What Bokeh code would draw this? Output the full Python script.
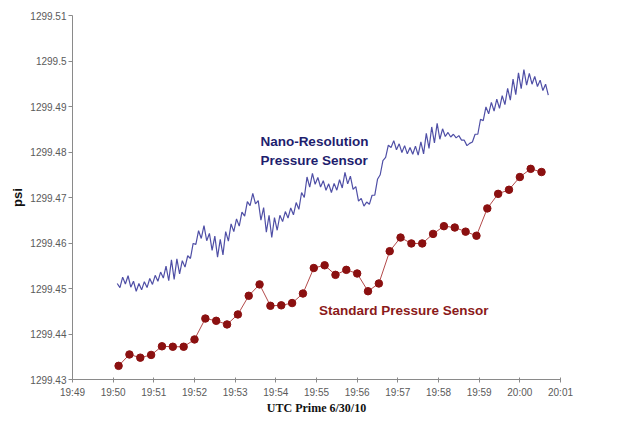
import numpy as np
from bokeh.plotting import figure
from bokeh.models import FixedTicker, Range1d, ColumnDataSource, Label
from bokeh.embed import file_html
from bokeh.resources import INLINE

# ---------------- data ----------------
x_tick_values = [49, 50, 51, 52, 53, 54, 55, 56, 57, 58, 59, 60, 61]   # minutes after 19:00
x_tick_labels = ["19:49", "19:50", "19:51", "19:52", "19:53", "19:54", "19:55",
                 "19:56", "19:57", "19:58", "19:59", "20:00", "20:01"]
y_tick_values = [1299.43, 1299.44, 1299.45, 1299.46, 1299.47, 1299.48, 1299.49, 1299.50, 1299.51]
y_tick_labels = ["1299.43", "1299.44", "1299.45", "1299.46", "1299.47", "1299.48",
                 "1299.49", "1299.5", "1299.51"]
x_axis_title = "UTC Prime 6/30/10"
y_axis_title = "psi"

# Nano-Resolution Pressure Sensor: sampled every 4 s starting 19:50:06
nano_start_min = 50 + 6 / 60
nano_step_min = 4 / 60
nano_psi = [
    1299.4511, 1299.4502, 1299.4525, 1299.4510, 1299.4528, 1299.4503, 1299.4516, 1299.4494, 1299.4511, 1299.4497,
    1299.4515, 1299.4502, 1299.4522, 1299.4509, 1299.4529,
    1299.4516, 1299.4536, 1299.4523, 1299.4549, 1299.4517, 1299.4563, 1299.4520, 1299.4565, 1299.4532, 1299.4561,
    1299.4547, 1299.4572, 1299.4566, 1299.4599, 1299.4597,
    1299.4627, 1299.4610, 1299.4638, 1299.4605, 1299.4621, 1299.4584, 1299.4615, 1299.4569, 1299.4608, 1299.4574,
    1299.4625, 1299.4604, 1299.4642, 1299.4625, 1299.4653,
    1299.4637, 1299.4668, 1299.4659, 1299.4691, 1299.4682, 1299.4709, 1299.4686, 1299.4693, 1299.4650, 1299.4678,
    1299.4624, 1299.4661, 1299.4612, 1299.4656, 1299.4628,
    1299.4661, 1299.4647, 1299.4669, 1299.4655, 1299.4677, 1299.4662, 1299.4689, 1299.4674, 1299.4711, 1299.4700,
    1299.4745, 1299.4723, 1299.4753, 1299.4729, 1299.4744,
    1299.4723, 1299.4737, 1299.4716, 1299.4730, 1299.4711, 1299.4731, 1299.4716, 1299.4739, 1299.4721, 1299.4755,
    1299.4730, 1299.4747, 1299.4718, 1299.4724, 1299.4692,
    1299.4698, 1299.4681, 1299.4690, 1299.4685, 1299.4705, 1299.4705, 1299.4740, 1299.4750, 1299.4781, 1299.4788,
    1299.4815, 1299.4810, 1299.4825, 1299.4805, 1299.4818,
    1299.4799, 1299.4814, 1299.4796, 1299.4810, 1299.4795, 1299.4813, 1299.4793, 1299.4822, 1299.4796, 1299.4841,
    1299.4808, 1299.4855, 1299.4820, 1299.4863, 1299.4828,
    1299.4851, 1299.4834, 1299.4843, 1299.4833, 1299.4839, 1299.4831, 1299.4836, 1299.4826, 1299.4826, 1299.4814,
    1299.4819, 1299.4822, 1299.4839, 1299.4839, 1299.4872,
    1299.4869, 1299.4899, 1299.4884, 1299.4909, 1299.4890, 1299.4916, 1299.4896, 1299.4924, 1299.4904, 1299.4940,
    1299.4914, 1299.4960, 1299.4926, 1299.4974, 1299.4939,
    1299.4981, 1299.4947, 1299.4973, 1299.4949, 1299.4966, 1299.4944, 1299.4958, 1299.4935, 1299.4949, 1299.4925,
]

# Standard Pressure Sensor: sampled every 16 s starting 19:50:08
std_start_min = 50 + 8 / 60
std_step_min = 16 / 60
std_psi = [
    1299.4330, 1299.4355, 1299.4348, 1299.4354, 1299.4373, 1299.4372, 1299.4372, 1299.4388,
    1299.4434, 1299.4429, 1299.4421, 1299.4443, 1299.4484, 1299.4509, 1299.4462, 1299.4463,
    1299.4468, 1299.4489, 1299.4545, 1299.4551, 1299.4530, 1299.4541, 1299.4533, 1299.4494,
    1299.4511, 1299.4582, 1299.4612, 1299.4599, 1299.4599, 1299.4620, 1299.4637, 1299.4634,
    1299.4625, 1299.4616, 1299.4676, 1299.4708, 1299.4717, 1299.4745, 1299.4763, 1299.4756,
]

nano_t = nano_start_min + nano_step_min * np.arange(len(nano_psi))
std_t = std_start_min + std_step_min * np.arange(len(std_psi))

nano_src = ColumnDataSource(dict(t=nano_t, psi=nano_psi))
std_src = ColumnDataSource(dict(t=std_t, psi=std_psi))

# ---------------- figure ----------------
p = figure(width=603, height=417, output_backend="svg", toolbar_location=None,
           x_range=Range1d(x_tick_values[0], x_tick_values[-1]),
           y_range=Range1d(y_tick_values[0], y_tick_values[-1]),
           min_border_left=72, min_border_right=43, min_border_top=15, min_border_bottom=34)
p.outline_line_color = None
p.xgrid.visible = False
p.ygrid.visible = False
p.background_fill_color = "white"
p.border_fill_color = "white"

axis_color = "#8a8a8a"
label_font = "Liberation Sans Narrow, Liberation Sans, sans-serif"

p.xaxis.ticker = FixedTicker(ticks=x_tick_values)
p.xaxis.major_label_overrides = {v: s for v, s in zip(x_tick_values, x_tick_labels)}
p.yaxis.ticker = FixedTicker(ticks=y_tick_values)
p.yaxis.major_label_overrides = {v: s for v, s in zip(y_tick_values, y_tick_labels)}

for ax in (p.xaxis, p.yaxis):
    ax.axis_line_color = axis_color
    ax.major_tick_line_color = axis_color
    ax.minor_tick_line_color = None
    ax.major_label_text_font = label_font
    ax.major_label_text_font_size = "10px"
    ax.major_label_text_color = "#5a5a5a"

p.xaxis.major_tick_in = 2
p.xaxis.major_tick_out = 3
p.xaxis.major_label_standoff = 4
p.yaxis.major_tick_in = 0
p.yaxis.major_tick_out = 4
p.yaxis.major_label_standoff = 2

p.xaxis.axis_label = x_axis_title
p.xaxis.axis_label_text_font = "Liberation Serif"
p.xaxis.axis_label_text_font_style = "bold"
p.xaxis.axis_label_text_font_size = "12px"
p.xaxis.axis_label_text_color = "#111111"
p.xaxis.axis_label_standoff = 0

p.yaxis.axis_label = y_axis_title
p.yaxis.axis_label_text_font = "Liberation Sans"
p.yaxis.axis_label_text_font_style = "bold"
p.yaxis.axis_label_text_font_size = "13px"
p.yaxis.axis_label_text_color = "#111111"
p.yaxis.axis_label_standoff = 2

# series
p.line("t", "psi", source=nano_src, line_color="#4f4fa6", line_width=1.2)
p.line("t", "psi", source=std_src, line_color="#b34a4a", line_width=1)
p.scatter("t", "psi", source=std_src, size=7.5, fill_color="#8b1010", line_color="#8b1010")

# annotations
for txt, yy in (("Nano-Resolution", 1299.4824), ("Pressure Sensor", 1299.4781)):
    p.add_layout(Label(x=53.62, y=yy, text=txt, text_font="Liberation Sans",
                       text_font_style="bold", text_font_size="13.5px",
                       text_color="#1e1e6e", text_baseline="middle", text_align="left"))
p.add_layout(Label(x=55.06, y=1299.4452, text="Standard Pressure Sensor", text_font="Liberation Sans",
                   text_font_style="bold", text_font_size="13.5px",
                   text_color="#8b1a1a", text_baseline="middle", text_align="left"))

open("out.html", "w").write(file_html(p, INLINE))
